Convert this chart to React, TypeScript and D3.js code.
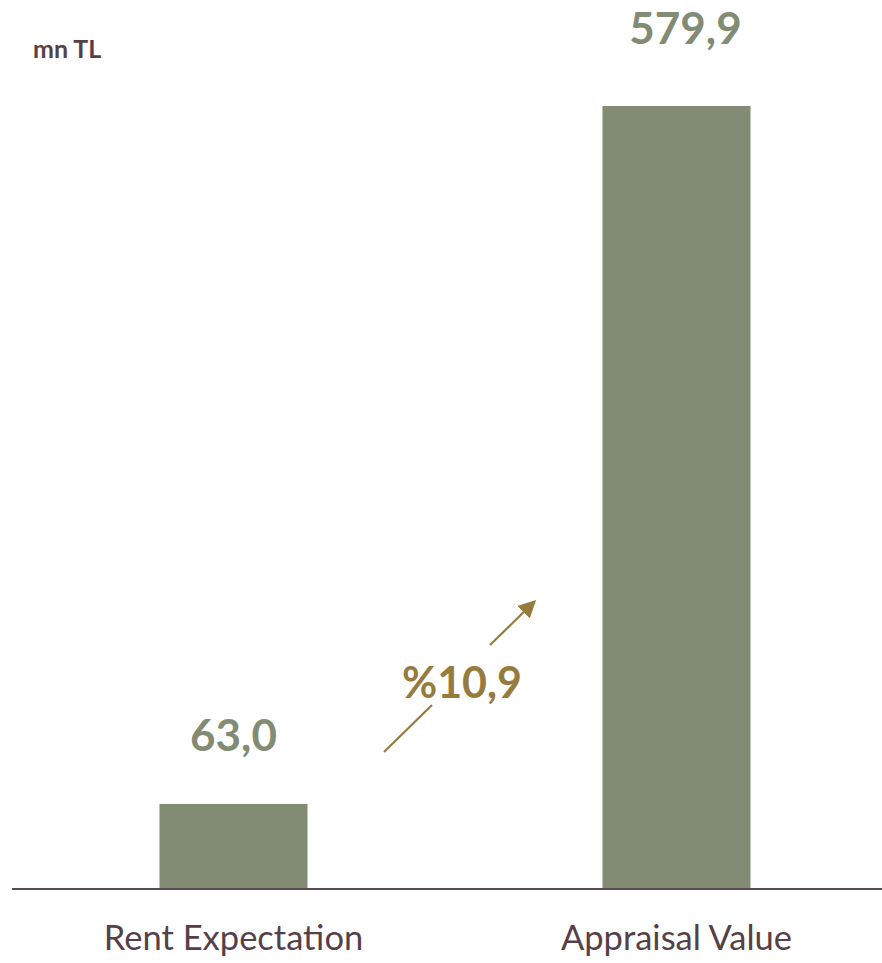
import React from "react";
import * as d3 from "d3";

const categories = ["Rent Expectation", "Appraisal Value"];
const values = [63.0, 579.9];
const valueLabels = ["63,0", "579,9"];
const unitLabel = "mn TL";
const changeLabel = "%10,9";

const W = 882;
const H = 963;
const baseY = 889;
const topY = 106;

export default function App() {
  const x = d3.scaleBand<string>().domain(categories).range([12, 898]).paddingInner(0.5).paddingOuter(0.25);
  const y = d3.scaleLinear().domain([0, 579.9]).range([baseY, topY]);
  const font = "Lato, 'Open Sans', sans-serif";
  const bw = 148;
  const cx = (c: string) => (x(c) as number) + x.bandwidth() / 2;
  return (
    <svg width={W} height={H} style={{ position: "absolute", left: 0, top: 0 }}>
      <defs>
        <marker id="ah" markerWidth="8" markerHeight="8" refX="6" refY="4" orient="auto" markerUnits="strokeWidth">
          <path d="M0,0 L8,4 L0,8 z" fill="#957c3e" />
        </marker>
      </defs>
      <text x={33} y={58} fontFamily={font} fontWeight={700} fontSize={25} fill="#573f48">{unitLabel}</text>
      {categories.map((c, i) => (
        <g key={c}>
          <rect x={cx(c) - bw / 2} y={y(values[i])} width={bw} height={baseY - y(values[i])} fill="#828c74" />
          <text x={cx(c) + (i === 0 ? 0 : 9)} y={y(values[i]) - (i === 0 ? 53 : 62)} textAnchor="middle" fontFamily={font} fontWeight={700} fontSize={44} fill="#828c74">{valueLabels[i]}</text>
          <text x={cx(c)} y={950} textAnchor="middle" fontFamily={font} fontSize={34.5} fill="#573f48">{c}</text>
        </g>
      ))}
      <line x1={12} x2={882} y1={baseY} y2={baseY} stroke="#5c4a50" strokeWidth={2} />
      <line x1={384} y1={752} x2={432} y2={705} stroke="#957c3e" strokeWidth={2.2} />
      <line x1={490} y1={645} x2={533} y2={603} stroke="#957c3e" strokeWidth={2.2} markerEnd="url(#ah)" />
      <text x={462} y={698} textAnchor="middle" fontFamily={font} fontWeight={700} fontSize={43} fill="#957c3e">{changeLabel}</text>
    </svg>
  );
}
